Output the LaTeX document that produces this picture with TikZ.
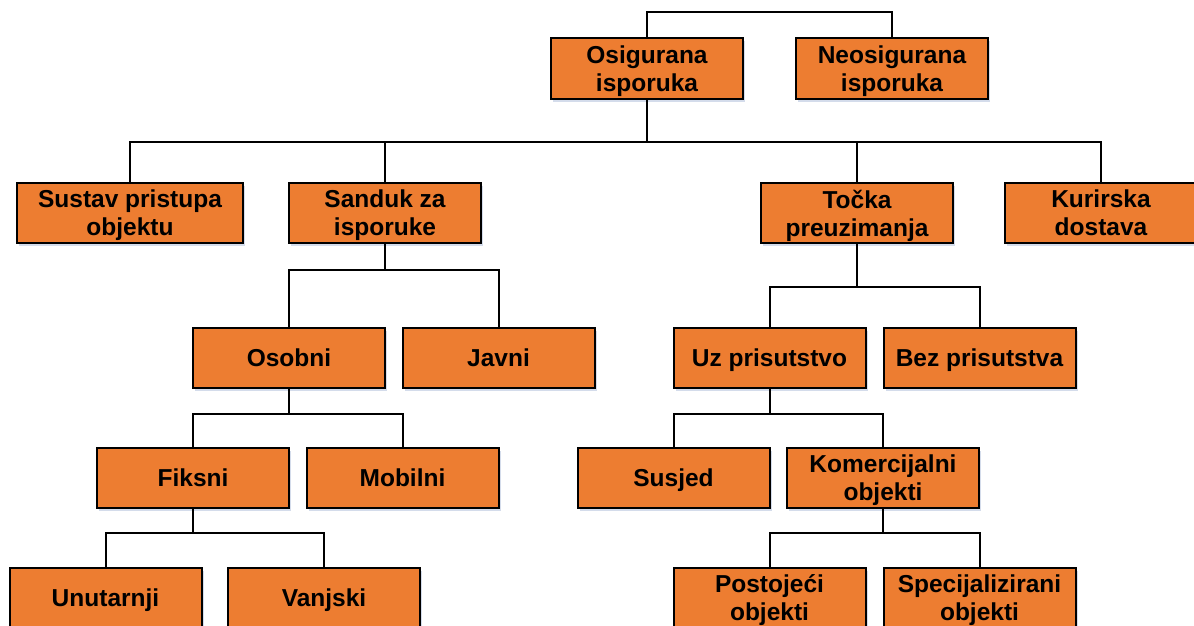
\documentclass[tikz,border=0pt]{standalone}
\usepackage{fontspec}
\setmainfont{Liberation Sans}
\usetikzlibrary{shadows}
\definecolor{boxorange}{HTML}{ED7D31}
\definecolor{shadowblue}{HTML}{C9D3E6}
\tikzset{
  box/.style={draw=black, line width=2pt, fill=boxorange, minimum width=192pt,
    minimum height=60pt, inner sep=0pt, align=center, text depth=0pt,
    font=\fontsize{24.5}{28}\selectfont\bfseries,
    drop shadow={shadow xshift=2pt, shadow yshift=-3pt, fill=shadowblue, opacity=0.8}},
  conn/.style={draw=black, line width=2pt}
}
\begin{document}
\begin{tikzpicture}[x=1pt,y=-1pt]
\useasboundingbox (0,0) rectangle (1194,626);
% nodes
\node[box] (osig) at (647,68.5) {Osigurana\\isporuka};
\node[box] (neo) at (892,68.5) {Neosigurana\\isporuka};
\node[box, minimum width=226pt] (sustav) at (130,213) {Sustav pristupa\\objektu};
\node[box] (sanduk) at (385,213) {Sanduk za\\isporuke};
\node[box] (tocka) at (857,213) {Točka\\preuzimanja};
\node[box] (kurir) at (1101,213) {Kurirska\\dostava};
\node[box] (osobni) at (289,358) {Osobni};
\node[box] (javni) at (498.5,358) {Javni};
\node[box] (uz) at (769.5,358) {Uz prisutstvo};
\node[box] (bez) at (979.5,358) {Bez prisutstva};
\node[box] (fiksni) at (193,478) {Fiksni};
\node[box] (mobilni) at (402.5,478) {Mobilni};
\node[box] (susjed) at (673.5,478) {Susjed};
\node[box] (komerc) at (883,478) {Komercijalni\\objekti};
\node[box] (unut) at (105.5,598) {Unutarnji};
\node[box] (vanj) at (324,598) {Vanjski};
\node[box] (post) at (769.5,598) {Postojeći\\objekti};
\node[box] (spec) at (979.5,598) {Specijalizirani\\objekti};
% bus levels
\coordinate (b0) at (0,12);
\coordinate (b1) at (0,142);
\coordinate (b2) at (0,270);
\coordinate (b3) at (0,287);
\coordinate (b4) at (0,414);
\coordinate (b5) at (0,533);
% connectors
\draw[conn] (osig.north) -- (osig.north |- b0) -- (neo.north |- b0) -- (neo.north);
\draw[conn] (osig.south) -- (osig.south |- b1);
\draw[conn] (sustav.north) -- (sustav.north |- b1) -- (kurir.north |- b1) -- (kurir.north);
\draw[conn] (sanduk.north) -- (sanduk.north |- b1);
\draw[conn] (tocka.north) -- (tocka.north |- b1);
\draw[conn] (sanduk.south) -- (sanduk.south |- b2);
\draw[conn] (osobni.north) -- (osobni.north |- b2) -- (javni.north |- b2) -- (javni.north);
\draw[conn] (tocka.south) -- (tocka.south |- b3);
\draw[conn] (uz.north) -- (uz.north |- b3) -- (bez.north |- b3) -- (bez.north);
\draw[conn] (osobni.south) -- (osobni.south |- b4);
\draw[conn] (fiksni.north) -- (fiksni.north |- b4) -- (mobilni.north |- b4) -- (mobilni.north);
\draw[conn] (uz.south) -- (uz.south |- b4);
\draw[conn] (susjed.north) -- (susjed.north |- b4) -- (komerc.north |- b4) -- (komerc.north);
\draw[conn] (fiksni.south) -- (fiksni.south |- b5);
\draw[conn] (unut.north) -- (unut.north |- b5) -- (vanj.north |- b5) -- (vanj.north);
\draw[conn] (komerc.south) -- (komerc.south |- b5);
\draw[conn] (post.north) -- (post.north |- b5) -- (spec.north |- b5) -- (spec.north);
\end{tikzpicture}
\end{document}
